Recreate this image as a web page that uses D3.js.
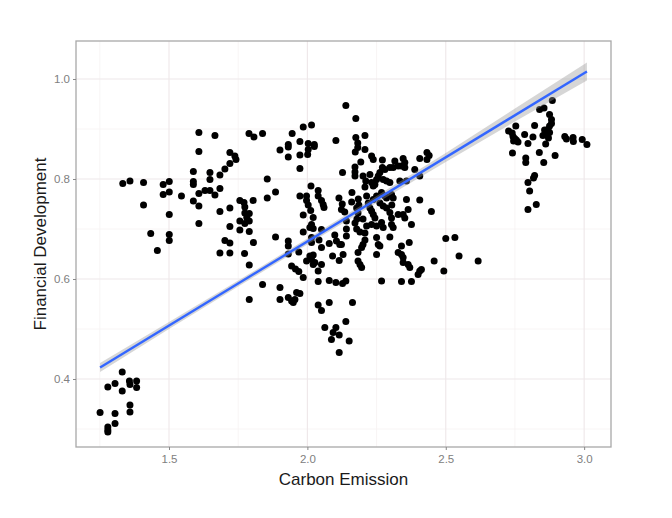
<!DOCTYPE html>
<html>
<head>
<meta charset="utf-8">
<script src="https://cdn.jsdelivr.net/npm/d3@7"></script>
<style>
  body { margin: 0; background: #fff; }
  svg { display: block; }
  text { font-family: "Liberation Sans", Arial, sans-serif; }
</style>
</head>
<body>
<svg id="chart" width="672" height="518"></svg>
<script>
// carbon emission (x) and financial development (y)
const carbon = [
  1.251, 1.279, 1.305, 1.331, 1.331, 1.357, 1.359, 1.383, 1.383, 1.359, 1.359, 1.305, 1.305, 1.279, 1.279, 1.279,
  1.333, 1.359, 1.408, 1.408, 1.434, 1.458, 1.479, 1.479, 1.501, 1.501, 1.501, 1.501, 1.501, 1.545, 1.588, 1.588,
  1.588, 1.588, 1.608, 1.608, 1.608, 1.608, 1.608, 1.630, 1.648, 1.648, 1.648, 1.666, 1.666, 1.684, 1.684, 1.684,
  1.702, 1.720, 1.720, 1.738, 1.742, 1.720, 1.720, 1.702, 1.720, 1.684, 1.720, 1.773, 1.805, 1.790, 1.790,
  1.756, 1.771, 1.774, 1.774, 1.790, 1.781, 1.756, 1.774, 1.790, 1.756, 1.790, 1.804, 1.789, 1.807, 1.838, 1.901,
  1.855, 1.885, 1.855, 1.885, 1.838, 1.901, 1.901,
  1.945, 1.985, 2.015, 1.931, 1.931, 1.973, 2.003, 2.003, 2.025, 2.025, 1.931, 1.973, 2.001, 1.973, 2.103,
  1.973, 2.013, 1.997, 1.997, 2.003, 2.039, 2.039, 2.051, 2.057, 2.060, 2.012, 1.985, 2.021, 2.015, 2.009, 2.021,
  1.985, 2.051, 1.931, 1.931, 1.931, 1.969, 1.943, 1.957, 1.969, 1.985, 1.931, 1.943, 1.955, 1.949, 1.961, 1.973,
  2.015, 2.015, 2.042, 2.051, 2.009, 2.021, 2.015, 1.997, 2.027, 2.021, 2.051, 2.039, 2.079, 2.105, 2.117, 2.091,
  2.115, 2.099, 2.039, 2.079, 2.103, 2.127, 2.139, 2.039, 2.051, 2.079, 2.163, 2.063, 2.103, 2.093, 2.115, 2.087,
  2.139, 2.151, 2.115,
  2.139, 2.175, 2.175, 2.182, 2.208, 2.182, 2.173, 2.208, 2.232, 2.238, 2.193, 2.172, 2.172, 2.172, 2.127, 2.201,
  2.211, 2.208, 2.226, 2.232, 2.238, 2.244, 2.250, 2.256, 2.262, 2.271, 2.280, 2.298, 2.310, 2.316, 2.328, 2.340,
  2.346, 2.352, 2.352, 2.271, 2.274, 2.286, 2.298, 2.334, 2.358, 2.388, 2.406, 2.406, 2.432, 2.440, 2.432,
  2.114, 2.126, 2.123, 2.161, 2.160, 2.184, 2.186, 2.178, 2.183, 2.179, 2.135, 2.141, 2.141, 2.141, 2.172, 2.178,
  2.190, 2.201, 2.214, 2.208, 2.208, 2.214, 2.238, 2.250, 2.268, 2.280, 2.286, 2.304, 2.310, 2.220, 2.226, 2.232,
  2.238, 2.244, 2.262, 2.274, 2.286, 2.305, 2.298, 2.304, 2.328, 2.346, 2.352, 2.364, 2.358, 2.406, 2.448, 2.376,
  2.304, 2.310, 2.232, 2.250, 2.268, 2.274, 2.250, 2.298,
  2.256, 2.262, 2.250, 2.201, 2.196, 2.183, 2.183, 2.190, 2.196, 2.340, 2.328, 2.340, 2.346, 2.346, 2.364, 2.370,
  2.368, 2.406, 2.412, 2.400, 2.458, 2.493, 2.500, 2.533, 2.548, 2.617, 2.268, 2.340, 2.376, 2.123, 2.129,
  2.885, 2.839, 2.855, 2.875, 2.882, 2.882, 2.875, 2.869, 2.875, 2.863, 2.857, 2.821, 2.753, 2.727, 2.740, 2.743,
  2.749, 2.755, 2.761, 2.745, 2.785, 2.815, 2.851, 2.871, 2.797, 2.861, 2.930, 2.936, 2.960, 2.961, 2.993, 3.010,
  2.741, 2.838, 2.789, 2.789, 2.854, 2.895, 2.821, 2.817, 2.797, 2.803, 2.827, 2.797
]
const finance = [
  0.333, 0.384, 0.391, 0.414, 0.376, 0.396, 0.389, 0.396, 0.383, 0.348, 0.334, 0.331, 0.311, 0.304, 0.298, 0.294,
  0.791, 0.796, 0.793, 0.748, 0.691, 0.657, 0.789, 0.769, 0.795, 0.774, 0.729, 0.689, 0.677, 0.766, 0.815, 0.795,
  0.789, 0.756, 0.893, 0.855, 0.771, 0.746, 0.711, 0.777, 0.813, 0.799, 0.777, 0.887, 0.768, 0.808, 0.781, 0.735,
  0.820, 0.831, 0.853, 0.846, 0.839, 0.742, 0.705, 0.677, 0.672, 0.652, 0.652, 0.651, 0.673, 0.628, 0.559,
  0.757, 0.753, 0.744, 0.732, 0.731, 0.723, 0.716, 0.711, 0.716, 0.698, 0.695, 0.757, 0.891, 0.884, 0.891, 0.858,
  0.800, 0.774, 0.762, 0.684, 0.589, 0.583, 0.559,
  0.891, 0.904, 0.908, 0.869, 0.864, 0.875, 0.871, 0.859, 0.869, 0.865, 0.844, 0.848, 0.849, 0.821, 0.877,
  0.766, 0.786, 0.766, 0.757, 0.748, 0.777, 0.766, 0.757, 0.749, 0.743, 0.737, 0.728, 0.723, 0.709, 0.703, 0.701,
  0.694, 0.699, 0.676, 0.666, 0.650, 0.654, 0.626, 0.620, 0.615, 0.603, 0.563, 0.556, 0.559, 0.553, 0.573, 0.571,
  0.683, 0.673, 0.678, 0.663, 0.646, 0.648, 0.639, 0.636, 0.633, 0.629, 0.629, 0.616, 0.671, 0.676, 0.669, 0.646,
  0.637, 0.688, 0.595, 0.597, 0.593, 0.591, 0.596, 0.548, 0.537, 0.553, 0.553, 0.503, 0.503, 0.493, 0.488, 0.479,
  0.515, 0.476, 0.453,
  0.947, 0.921, 0.883, 0.872, 0.887, 0.863, 0.854, 0.859, 0.846, 0.839, 0.834, 0.824, 0.814, 0.806, 0.813, 0.806,
  0.796, 0.784, 0.809, 0.793, 0.786, 0.789, 0.799, 0.806, 0.813, 0.823, 0.819, 0.823, 0.823, 0.836, 0.826, 0.826,
  0.841, 0.833, 0.823, 0.838, 0.799, 0.796, 0.793, 0.796, 0.796, 0.819, 0.806, 0.841, 0.853, 0.847, 0.839,
  0.762, 0.750, 0.739, 0.773, 0.754, 0.760, 0.748, 0.742, 0.732, 0.720, 0.734, 0.716, 0.700, 0.686, 0.712, 0.700,
  0.694, 0.720, 0.706, 0.692, 0.678, 0.766, 0.759, 0.766, 0.773, 0.766, 0.762, 0.769, 0.762, 0.752, 0.742, 0.736,
  0.729, 0.722, 0.752, 0.746, 0.742, 0.748, 0.733, 0.722, 0.729, 0.729, 0.722, 0.739, 0.759, 0.758, 0.735, 0.709,
  0.709, 0.703, 0.709, 0.706, 0.713, 0.703, 0.683, 0.684,
  0.669, 0.666, 0.649, 0.669, 0.663, 0.653, 0.636, 0.629, 0.623, 0.666, 0.653, 0.649, 0.643, 0.633, 0.629, 0.623,
  0.673, 0.616, 0.619, 0.609, 0.636, 0.616, 0.681, 0.683, 0.646, 0.636, 0.596, 0.595, 0.595, 0.669, 0.649,
  0.957, 0.939, 0.942, 0.929, 0.919, 0.911, 0.906, 0.899, 0.893, 0.889, 0.898, 0.907, 0.906, 0.896, 0.892, 0.885,
  0.881, 0.878, 0.874, 0.876, 0.889, 0.884, 0.887, 0.882, 0.871, 0.870, 0.885, 0.880, 0.883, 0.875, 0.879, 0.869,
  0.852, 0.853, 0.842, 0.833, 0.833, 0.847, 0.807, 0.802, 0.793, 0.776, 0.749, 0.739
]

// linear fit and its confidence band
const fitX = [1.251, 3.010]
const fitY = [0.423, 1.015]
const bandX = [1.251, 1.5, 1.75, 2.0, 2.25, 2.5, 2.75, 3.010]
const bandLow = [0.414, 0.500, 0.585, 0.669, 0.752, 0.834, 0.915, 0.997]
const bandHigh = [0.432, 0.514, 0.597, 0.681, 0.766, 0.852, 0.941, 1.033]

const xTicks = [1.5, 2.0, 2.5, 3.0]
const yTicks = [0.4, 0.6, 0.8, 1.0]
const xMinor = [1.25, 1.75, 2.25, 2.75]
const yMinor = [0.3, 0.5, 0.7, 0.9]

const points = carbon.map((c, i) => ({ x: c, y: finance[i] }))

const svg = d3.select("#chart")
const panel = { left: 76, right: 611, top: 41, bottom: 447 }

const x = d3.scaleLinear().domain([1.164, 3.097]).range([panel.left, panel.right])
const y = d3.scaleLinear().domain([0.264, 1.076]).range([panel.bottom, panel.top])

// panel
svg.append("rect")
  .attr("x", panel.left).attr("y", panel.top)
  .attr("width", panel.right - panel.left).attr("height", panel.bottom - panel.top)
  .attr("fill", "#fff")

let grid = svg.append("g")
grid.selectAll(".xminor").data(xMinor).join("line")
  .attr("x1", d => x(d)).attr("x2", d => x(d))
  .attr("y1", panel.top).attr("y2", panel.bottom)
  .attr("stroke", "#f6f2f3").attr("stroke-width", 0.8)
grid.selectAll(".yminor").data(yMinor).join("line")
  .attr("y1", d => y(d)).attr("y2", d => y(d))
  .attr("x1", panel.left).attr("x2", panel.right)
  .attr("stroke", "#f6f2f3").attr("stroke-width", 0.8)
grid.selectAll(".xmajor").data(xTicks).join("line")
  .attr("x1", d => x(d)).attr("x2", d => x(d))
  .attr("y1", panel.top).attr("y2", panel.bottom)
  .attr("stroke", "#eee7e9").attr("stroke-width", 1.1)
grid.selectAll(".ymajor").data(yTicks).join("line")
  .attr("y1", d => y(d)).attr("y2", d => y(d))
  .attr("x1", panel.left).attr("x2", panel.right)
  .attr("stroke", "#eee7e9").attr("stroke-width", 1.1)

// points
svg.append("g").selectAll("circle")
  .data(points)
  .join("circle")
  .attr("cx", d => x(d.x))
  .attr("cy", d => y(d.y))
  .attr("r", 3.5)
  .attr("fill", "#000")

// confidence band and fit line
const band = d3.area()
  .x(d => x(d))
  .y0((d, i) => y(bandLow[i]))
  .y1((d, i) => y(bandHigh[i]))
svg.append("path")
  .datum(bandX)
  .attr("d", band)
  .attr("fill", "#999")
  .attr("opacity", 0.4)

svg.append("path")
  .datum(fitX)
  .attr("d", d3.line().x(d => x(d)).y((d, i) => y(fitY[i])))
  .attr("stroke", "#3366ff")
  .attr("stroke-width", 2.4)
  .attr("fill", "none")

// border
svg.append("rect")
  .attr("x", panel.left).attr("y", panel.top)
  .attr("width", panel.right - panel.left).attr("height", panel.bottom - panel.top)
  .attr("fill", "none")
  .attr("stroke", "#a8a8a8")
  .attr("stroke-width", 1.3)

// axes
const xAxis = svg.append("g")
  .attr("transform", `translate(0,${panel.bottom})`)
  .call(d3.axisBottom(x).tickValues(xTicks).tickFormat(d3.format(".1f")).tickSizeOuter(0).tickSize(3))
xAxis.select(".domain").remove()
xAxis.selectAll("line").attr("stroke", "#888")
xAxis.selectAll("text").attr("fill", "#808080").attr("font-size", 11.5).attr("dy", "0.9em")

const yAxis = svg.append("g")
  .attr("transform", `translate(${panel.left},0)`)
  .call(d3.axisLeft(y).tickValues(yTicks).tickFormat(d3.format(".1f")).tickSizeOuter(0).tickSize(3))
yAxis.select(".domain").remove()
yAxis.selectAll("line").attr("stroke", "#888")
yAxis.selectAll("text").attr("fill", "#808080").attr("font-size", 11.5)

svg.append("text")
  .attr("x", (panel.left + panel.right) / 2).attr("y", 485)
  .attr("text-anchor", "middle")
  .attr("font-size", 17)
  .attr("fill", "#1a1a1a")
  .text("Carbon Emission")

svg.append("text")
  .attr("transform", `translate(46,${(panel.top + panel.bottom) / 2}) rotate(-90)`)
  .attr("text-anchor", "middle")
  .attr("font-size", 17)
  .attr("fill", "#1a1a1a")
  .text("Financial Development")
</script>
</body>
</html>
